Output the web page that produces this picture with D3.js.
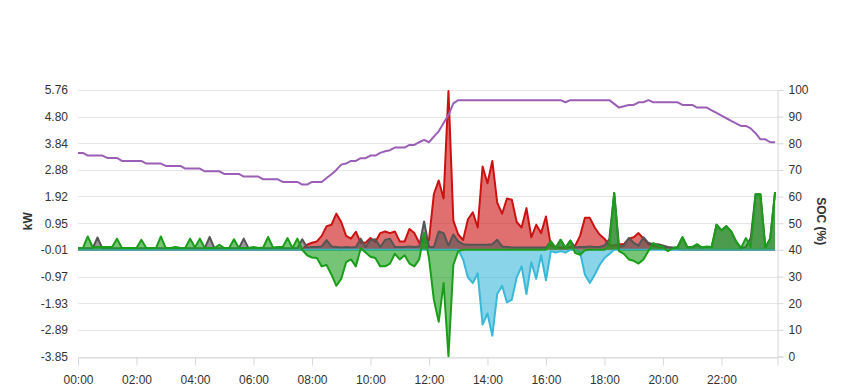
<!DOCTYPE html>
<html>
<head>
<meta charset="utf-8">
<script src="https://cdn.jsdelivr.net/npm/d3@7"></script>
<style>
  body { margin: 0; background: #fff; }
  svg { display: block; font-family: "Liberation Sans", Arial, sans-serif; }
</style>
</head>
<body>
<script>
// one sample every 10 minutes, minutes since midnight
const minutes = d3.range(0, 1440, 10);

// kW, red area
const pv = [
  0, 0, 0, 0, 0, 0, 0, 0, 0, 0, 0, 0,
  0, 0, 0, 0, 0, 0, 0, 0, 0, 0, 0, 0,
  0, 0, 0, 0, 0, 0, 0, 0, 0, 0, 0, 0,
  0, 0, 0, 0, 0, 0, 0, 0, 0, 0, 0, 0.18,
  0.25, 0.3, 0.5, 0.85, 0.9, 1.3, 1.0, 0.5, 0.4, 0.65, 0.25, 0.25,
  0.42, 0.28, 0.6, 0.66, 0.6, 0.66, 0.3, 0.3, 0.75, 0.6, 0.25, 0.45,
  0.35, 2.0, 2.5, 1.85, 5.72, 1.05, 0.55, 0.35, 1.1, 1.35, 0.8, 3.0,
  2.4, 3.2, 1.7, 1.3, 1.85, 1.8, 1.0, 0.8, 1.5, 0.45, 0.9, 0.6,
  1.2, 0.15, 0.1, 0.08, 0.08, 0.1, 0.15, 0.5, 1.15, 1.15, 0.8, 0.55,
  0.4, 0.15, 0.15, 0.2, 0.2, 0.4, 0.45, 0.6, 0.4, 0.2, 0.15, 0.12,
  0.1, 0.08, 0.05, 0.02, 0, 0, 0, 0, 0, 0, 0, 0,
  0, 0, 0, 0, 0, 0, 0, 0, 0, 0, 0, 0
];

// kW, dark grey area
const load = [
  0.05, 0.05, 0.05, 0.05, 0.44, 0.05, 0.05, 0.05, 0.05, 0.05, 0.05, 0.05,
  0.05, 0.05, 0.05, 0.05, 0.05, 0.05, 0.05, 0.05, 0.05, 0.05, 0.05, 0.05,
  0.05, 0.05, 0.05, 0.46, 0.05, 0.05, 0.05, 0.05, 0.05, 0.05, 0.4, 0.05,
  0.05, 0.05, 0.05, 0.05, 0.05, 0.05, 0.05, 0.05, 0.05, 0.05, 0.38, 0.08,
  0.1, 0.1, 0.12, 0.35, 0.12, 0.1, 0.08, 0.1, 0.08, 0.1, 0.4, 0.1,
  0.35, 0.38, 0.1, 0.35, 0.4, 0.1, 0.1, 0.1, 0.12, 0.1, 0.12, 1.02,
  0.1, 0.1, 0.66, 0.6, 0.15, 0.55, 0.3, 0.2, 0.18, 0.18, 0.18, 0.18,
  0.18, 0.2, 0.36, 0.12, 0.1, 0.08, 0.08, 0.08, 0.08, 0.08, 0.08, 0.08,
  0.08, 0.3, 0.08, 0.36, 0.08, 0.33, 0.08, 0.1, 0.1, 0.12, 0.1, 0.1,
  0.15, 0.38, 2.05, 0.1, 0.15, 0.42, 0.25, 0.15, 0.45, 0.25, 0.2, 0.2,
  0.15, 0.1, 0.08, 0.08, 0.45, 0.08, 0.08, 0.15, 0.08, 0.1, 0.1, 0.9,
  0.7, 0.85, 0.66, 0.3, 0.06, 0.1, 0.42, 2.0, 2.0, 0.08, 0.4, 2.08
];

// kW, cyan area (negative)
const gridExport = [
  0, 0, 0, 0, 0, 0, 0, 0, 0, 0, 0, 0,
  0, 0, 0, 0, 0, 0, 0, 0, 0, 0, 0, 0,
  0, 0, 0, 0, 0, 0, 0, 0, 0, 0, 0, 0,
  0, 0, 0, 0, 0, 0, 0, 0, 0, 0, 0, 0,
  0, 0, 0, 0, 0, 0, 0, 0, 0, 0, 0, 0,
  0, 0, 0, 0, 0, 0, 0, 0, 0, 0, 0, 0,
  0, 0, 0, 0, 0, 0, 0, -0.35, -1.0, -1.2, -0.85, -2.7,
  -2.3, -3.1, -1.6, -1.3, -1.9, -1.8, -1.0, -0.6, -1.6, -0.45, -1.05, -0.2,
  -1.1, -0.05, -0.1, -0.05, -0.1, 0, 0, -0.1, -0.9, -1.2, -0.9, -0.55,
  -0.3, -0.15, 0, 0, 0, 0, 0, 0, 0, 0, 0, 0,
  0, 0, 0, 0, 0, 0, 0, 0, 0, 0, 0, 0,
  0, 0, 0, 0, 0, 0, 0, 0, 0, 0, 0, 0
];

// kW, green area
const battery = [
  0.05, 0.06, 0.48, 0.1, 0.1, 0.1, 0.1, 0.1, 0.4, 0.06, 0.06, 0.06,
  0.06, 0.36, 0.06, 0.06, 0.06, 0.48, 0.06, 0.06, 0.1, 0.06, 0.06, 0.4,
  0.08, 0.4, 0.06, 0.06, 0.06, 0.18, 0.06, 0.06, 0.38, 0.06, 0.06, 0.06,
  0.1, 0.06, 0.08, 0.46, 0.08, 0.1, 0.1, 0.42, 0.06, 0.4, 0, -0.2,
  -0.28, -0.3, -0.6, -0.55, -0.9, -1.3, -1.05, -0.45, -0.35, -0.6, 0.05, -0.1,
  -0.25, -0.3, -0.6, -0.6, -0.5, -0.15, -0.35, -0.2, -0.5, -0.6, -0.35, 0.6,
  -0.3, -1.8, -2.6, -1.2, -3.85, -0.55, -0.05, 0, 0, 0, 0, 0,
  0, 0, 0, 0, 0, 0, 0, 0, 0, 0, 0, 0,
  0, 0.3, 0.03, 0.36, 0.05, 0.33, -0.12, -0.18, -0.02, 0, 0, 0,
  0, 0.15, 2.05, -0.05, -0.15, -0.35, -0.4, -0.5, -0.35, -0.05, 0.24, 0.15,
  0.1, -0.05, 0.05, 0.1, 0.45, 0.1, 0.1, 0.2, 0.08, 0.12, 0.1, 0.9,
  0.7, 0.85, 0.66, 0.3, 0.06, 0.42, 0.1, 2.0, 2.0, 0.08, 0.4, 2.08
];

// %, purple line (right axis)
const soc = [
  76.4, 76.4, 75.4, 75.4, 75.4, 75.4, 74.5, 74.5, 74.5, 73.4, 73.4, 73.4,
  73.4, 73.4, 72.4, 72.4, 72.4, 72.4, 71.5, 71.5, 71.5, 71.5, 70.5, 70.5,
  70.5, 70.5, 69.5, 69.5, 69.5, 69.5, 68.5, 68.5, 68.5, 68.5, 67.5, 67.5,
  67.5, 67.5, 66.5, 66.5, 66.5, 66.5, 65.5, 65.5, 65.5, 65.5, 64.5, 64.5,
  65.5, 65.5, 65.5, 67, 68.4, 70, 72, 72.4, 73.4, 73.4, 74.4, 74.4,
  75.4, 75.4, 76.4, 77, 77.4, 78.4, 78.4, 78.4, 79.4, 79.4, 80.4, 81.3,
  80.4, 82.5, 84.5, 87.6, 90.6, 95, 96.2, 96.2, 96.2, 96.2, 96.2, 96.2,
  96.2, 96.2, 96.2, 96.2, 96.2, 96.2, 96.2, 96.2, 96.2, 96.2, 96.2, 96.2,
  96.2, 96.2, 96.2, 96.2, 95.4, 96.2, 96.2, 96.2, 96.2, 96.2, 96.2, 96.2,
  96.2, 96.2, 94.8, 93.4, 93.9, 94.4, 94.4, 95.4, 95.4, 96.2, 95.4, 95.4,
  95.4, 95.4, 95.4, 95.4, 94.4, 94.4, 94.4, 93.4, 93.4, 93.4, 92.4, 91.4,
  90.4, 89.4, 88.4, 87.5, 86.5, 86.5, 85.6, 83.8, 81.5, 81.5, 80.4, 80.4
];

const kwTicks = [-3.85, -2.89, -1.93, -0.97, -0.01, 0.95, 1.92, 2.88, 3.84, 4.80, 5.76];
const socTicks = [0, 10, 20, 30, 40, 50, 60, 70, 80, 90, 100];
const timeTicks = [0, 120, 240, 360, 480, 600, 720, 840, 960, 1080, 1200, 1320];
const timeLabels = ["00:00", "02:00", "04:00", "06:00", "08:00", "10:00",
                    "12:00", "14:00", "16:00", "18:00", "20:00", "22:00"];

const w = 849, h = 390;
const plotLeft = 78, plotRight = 777.5, plotTop = 90, plotBottom = 356.5;

const x = d3.scaleLinear().domain([0, 1435]).range([plotLeft, plotRight]);
const yKw = d3.scaleLinear().domain([-3.85, 5.76]).range([plotBottom, plotTop]);
const ySoc = d3.scaleLinear().domain([0, 100]).range([plotBottom, plotTop]);

const svg = d3.select("body").append("svg")
  .attr("width", w)
  .attr("height", h);

// horizontal grid lines
svg.append("g")
  .selectAll("line")
  .data(kwTicks)
  .enter()
  .append("line")
  .attr("x1", plotLeft)
  .attr("x2", plotRight)
  .attr("y1", d => Math.round(yKw(d)) + 0.5)
  .attr("y2", d => Math.round(yKw(d)) + 0.5)
  .attr("stroke", "#e6e6e6")
  .attr("stroke-width", 1);

// areas, drawn back to front
const series = [
  { values: pv, color: "#cc1111" },
  { values: load, color: "#555555" },
  { values: gridExport, color: "#3ab8d8" },
  { values: battery, color: "#1a9e1a" }
];

const area = d3.area()
  .x((d, i) => x(minutes[i]))
  .y0(yKw(0))
  .y1(d => yKw(d));

const line = d3.line()
  .x((d, i) => x(minutes[i]))
  .y(d => yKw(d));

series.forEach(s => {
  svg.append("path")
    .attr("d", area(s.values))
    .attr("fill", s.color)
    .attr("fill-opacity", 0.6);
  svg.append("path")
    .attr("d", line(s.values))
    .attr("fill", "none")
    .attr("stroke", s.color)
    .attr("stroke-width", 2)
    .attr("stroke-linejoin", "round");
});

// state of charge
const socLine = d3.line()
  .x((d, i) => x(minutes[i]))
  .y(d => ySoc(d));

svg.append("path")
  .attr("d", socLine(soc))
  .attr("fill", "none")
  .attr("stroke", "#9b5fb8")
  .attr("stroke-width", 2)
  .attr("stroke-linejoin", "round");

// x axis
const xAxis = d3.axisBottom(x)
  .tickValues(timeTicks)
  .tickFormat((d, i) => timeLabels[i])
  .tickSize(8)
  .tickPadding(10);

const gx = svg.append("g")
  .attr("transform", "translate(0," + (Math.round(plotBottom) + 0.5) + ")")
  .call(xAxis);
gx.select(".domain").attr("stroke", "#d8d8d8");
gx.selectAll(".tick line").attr("stroke", "#d8d8d8");
gx.selectAll("text")
  .attr("fill", "#333")
  .style("font-size", "12px");

// left axis (labels only)
const yAxisL = d3.axisLeft(yKw)
  .tickValues(kwTicks)
  .tickFormat(d => d.toFixed(2))
  .tickSize(0)
  .tickPadding(10);

const gl = svg.append("g")
  .attr("transform", "translate(" + plotLeft + ",0)")
  .call(yAxisL);
gl.select(".domain").remove();
gl.selectAll("text")
  .attr("fill", "#333")
  .style("font-size", "12px");

// right axis
const yAxisR = d3.axisRight(ySoc)
  .tickValues(socTicks)
  .tickSize(6)
  .tickPadding(5);

const gr = svg.append("g")
  .attr("transform", "translate(" + plotRight + ",0)")
  .call(yAxisR);
gr.select(".domain").attr("stroke", "#d8d8d8");
gr.selectAll(".tick line").attr("stroke", "#d8d8d8");
gr.selectAll("text")
  .attr("fill", "#333")
  .style("font-size", "12px");

// axis titles
svg.append("text")
  .attr("transform", "translate(32," + ((plotTop + plotBottom) / 2 - 2) + ") rotate(-90)")
  .style("text-anchor", "middle")
  .style("font-size", "12px")
  .style("font-weight", "bold")
  .attr("fill", "#333")
  .text("kW");

svg.append("text")
  .attr("transform", "translate(817," + ((plotTop + plotBottom) / 2 - 2) + ") rotate(90)")
  .style("text-anchor", "middle")
  .style("font-size", "12px")
  .style("font-weight", "bold")
  .attr("fill", "#333")
  .text("SOC (%)");
</script>
</body>
</html>
